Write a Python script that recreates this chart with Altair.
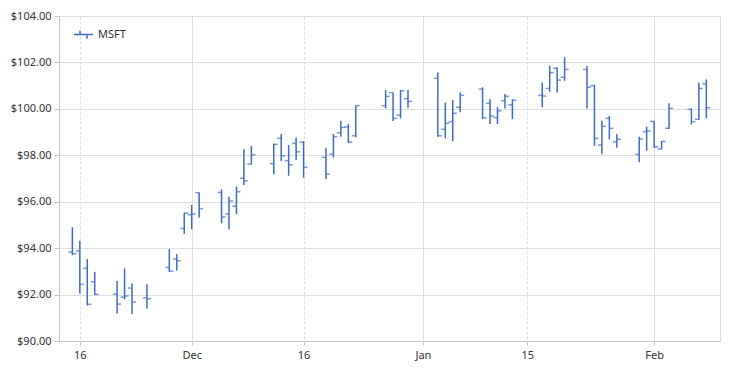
import altair as alt
import pandas as pd

dates = [
    "2016-11-15", "2016-11-16", "2016-11-17", "2016-11-18",
    "2016-11-21", "2016-11-22", "2016-11-23", "2016-11-25",
    "2016-11-28", "2016-11-29", "2016-11-30", "2016-12-01", "2016-12-02",
    "2016-12-05", "2016-12-06", "2016-12-07", "2016-12-08", "2016-12-09",
    "2016-12-12", "2016-12-13", "2016-12-14", "2016-12-15", "2016-12-16",
    "2016-12-19", "2016-12-20", "2016-12-21", "2016-12-22", "2016-12-23",
    "2016-12-27", "2016-12-28", "2016-12-29", "2016-12-30",
    "2017-01-03", "2017-01-04", "2017-01-05", "2017-01-06",
    "2017-01-09", "2017-01-10", "2017-01-11", "2017-01-12", "2017-01-13",
    "2017-01-17", "2017-01-18", "2017-01-19", "2017-01-20",
    "2017-01-23", "2017-01-24", "2017-01-25", "2017-01-26", "2017-01-27",
    "2017-01-30", "2017-01-31", "2017-02-01", "2017-02-02", "2017-02-03",
    "2017-02-06", "2017-02-07", "2017-02-08",
]
opens = [
    93.83, 93.88, 93.13, 92.55,
    92.02, 91.89, 92.28, 91.86,
    93.17, 93.53, 94.85, 95.44, 96.39,
    96.40, 95.47, 95.81, 97.01, 97.62,
    97.64, 98.73, 97.77, 98.51, 98.56,
    97.91, 98.05, 98.97, 99.22, 98.84,
    100.14, 100.70, 99.73, 100.44,
    101.32, 99.12, 99.45, 100.07,
    100.85, 100.24, 99.62, 100.35, 100.17,
    100.58, 100.88, 101.75, 101.36,
    101.70, 101.00, 98.44, 99.59, 98.58,
    98.04, 99.02, 99.46, 98.27, 99.16,
    99.98, 99.55, 101.08,
]
highs = [
    94.90, 94.32, 93.53, 92.98,
    92.58, 93.13, 92.48, 92.44,
    93.96, 93.75, 95.53, 95.86, 96.40,
    96.53, 96.21, 96.65, 98.26, 98.40,
    98.51, 98.92, 98.44, 98.77, 98.61,
    98.33, 98.92, 99.49, 99.35, 100.14,
    100.81, 100.71, 100.81, 100.81,
    101.57, 100.27, 100.38, 100.71,
    100.93, 100.41, 100.07, 100.64, 100.41,
    101.14, 101.86, 101.79, 102.22,
    101.86, 101.03, 99.49, 99.69, 98.92,
    98.80, 99.23, 99.48, 98.61, 100.24,
    100.02, 101.14, 101.27,
]
lows = [
    93.70, 92.05, 91.52, 91.98,
    91.19, 91.79, 91.16, 91.39,
    92.98, 93.04, 94.61, 94.81, 95.31,
    95.07, 94.81, 95.47, 96.72, 97.61,
    97.18, 97.75, 97.12, 97.80, 97.03,
    96.98, 97.90, 98.80, 98.54, 98.77,
    100.02, 99.48, 99.59, 100.05,
    98.80, 98.73, 98.61, 99.85,
    99.56, 99.35, 99.35, 100.02, 99.56,
    100.07, 100.74, 100.70, 101.21,
    100.02, 98.41, 98.04, 98.69, 98.33,
    97.70, 98.20, 98.33, 98.26, 99.13,
    99.33, 99.52, 99.59,
]
closes = [
    93.76, 92.44, 91.58, 92.01,
    91.59, 91.94, 91.68, 91.82,
    93.01, 93.46, 95.51, 95.47, 95.70,
    95.34, 96.03, 96.43, 96.90, 98.02,
    98.47, 97.98, 97.59, 98.15, 97.48,
    97.19, 98.80, 99.20, 98.57, 100.14,
    100.54, 99.59, 100.78, 100.32,
    98.84, 99.38, 99.81, 100.58,
    99.61, 99.69, 99.92, 100.54, 100.37,
    100.55, 101.56, 101.24, 101.70,
    100.93, 98.73, 99.25, 99.16, 98.69,
    98.70, 99.05, 98.37, 98.60, 100.02,
    99.45, 100.88, 100.05,
]
series_name = "MSFT"
y_ticks = [90, 92, 94, 96, 98, 100, 102, 104]

BLUE = "#3d6cc4"
FONT = "Noto Sans"
TEXT = "#333333"
GRID = "#dedede"

df = pd.DataFrame({
    "date": pd.to_datetime(dates),
    "open": opens,
    "high": highs,
    "low": lows,
    "close": closes,
    "symbol": [series_name] * len(dates),
})

x_values = [
    alt.DateTime(year=2016, month=11, date=16),
    alt.DateTime(year=2016, month=12, date=1),
    alt.DateTime(year=2016, month=12, date=16),
    alt.DateTime(year=2017, month=1, date=1),
    alt.DateTime(year=2017, month=1, date=15),
    alt.DateTime(year=2017, month=2, date=1),
]

x_enc = alt.X(
    "date:T",
    title=None,
    scale=alt.Scale(domain=[
        alt.DateTime(year=2016, month=11, date=13, hours=5),
        alt.DateTime(year=2017, month=2, date=9, hours=20),
    ]),
    axis=alt.Axis(
        values=x_values,
        labelExpr="date(datum.value) == 1 ? timeFormat(datum.value, '%b') : timeFormat(datum.value, '%-d')",
        grid=True,
        gridColor=GRID,
        gridDash={"condition": {"test": "date(datum.value) == 1", "value": []}, "value": [3, 2]},
        domainColor="#c4c4c4",
        tickColor="#c4c4c4",
        tickSize=4,
        labelPadding=4,
        labelFont=FONT,
        labelFontSize=11,
        labelColor=TEXT,
        labelFlush=False,
    ),
)

y_axis = alt.Axis(
    values=y_ticks,
    format="$.2f",
    grid=True,
    gridColor=GRID,
    domainColor="#c4c4c4",
    tickColor="#c4c4c4",
    tickSize=5,
    labelPadding=3,
    labelFont=FONT,
    labelFontSize=11,
    labelColor=TEXT,
)
y_scale = alt.Scale(domain=[90, 104], nice=False, zero=False)

base = alt.Chart(df)

bars = base.mark_rule(strokeWidth=1.5).encode(
    x=x_enc,
    y=alt.Y("low:Q", title=None, scale=y_scale, axis=y_axis),
    y2="high:Q",
    color=alt.Color(
        "symbol:N",
        scale=alt.Scale(range=[BLUE]),
        legend=alt.Legend(
            title=None,
            orient="none",
            legendX=14,
            legendY=8,
            padding=0,
            symbolType="M-1,0H1M-0.37,0V-0.4M0.37,0V0.45",
            symbolSize=361,
            symbolStrokeWidth=1.5,
            symbolStrokeColor=BLUE,
            symbolFillColor="transparent",
            labelFont=FONT,
            labelFontSize=11,
            labelColor=TEXT,
            labelOffset=4,
        ),
    ),
)

open_ticks = base.mark_tick(orient="horizontal", size=4, thickness=1.5, xOffset=-2, color=BLUE).encode(
    x="date:T",
    y="open:Q",
)
close_ticks = base.mark_tick(orient="horizontal", size=4, thickness=1.5, xOffset=2, color=BLUE).encode(
    x="date:T",
    y="close:Q",
)

chart = alt.layer(bars, open_ticks, close_ticks).properties(
    width=661,
    height=325,
    autosize="none",
    padding={"left": 51, "top": 8, "right": 4, "bottom": 20},
).configure_view(stroke=None).configure(background="white")

chart.save("out.html", embed_options={"renderer": "svg", "actions": False})
